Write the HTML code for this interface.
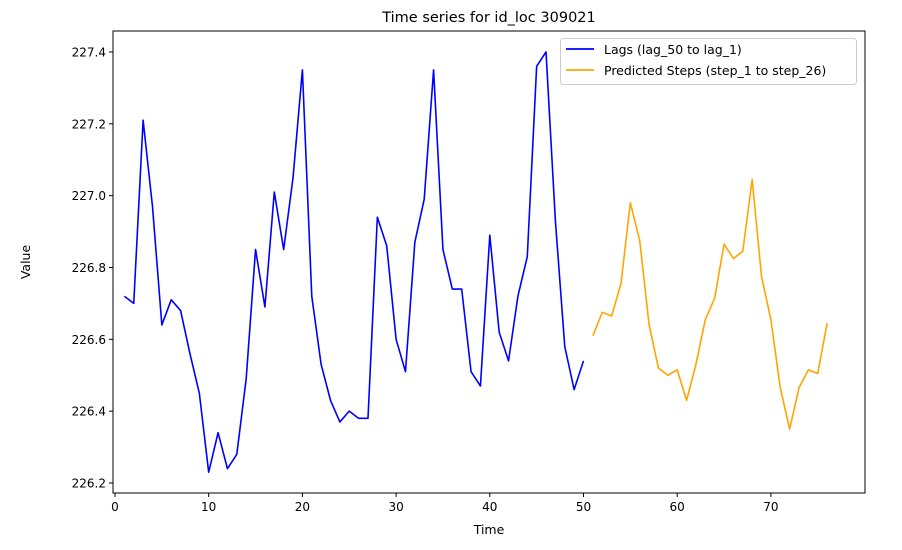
<!DOCTYPE html>
<html><head><meta charset="utf-8"><style>
body{margin:0;background:#fff;}
svg{display:block;font-family:"DejaVu Sans","Liberation Sans",sans-serif;}
</style></head><body>
<svg id="chart" width="902" height="550">
<rect width="902" height="550" fill="#fff"/>
<text x="489" y="22" font-size="14.5" text-anchor="middle">Time series for id_loc 309021</text>
<g id="axes"></g>
<g id="series"></g>
<rect x="113" y="31" width="752" height="462" fill="none" stroke="#000" stroke-width="1"/>
<text x="489" y="534" font-size="12.5" text-anchor="middle">Time</text>
<text x="30" y="262" font-size="12.5" text-anchor="middle" transform="rotate(-90 30 262)">Value</text>
<g>
<rect x="560.5" y="38.5" width="296" height="46" rx="3" fill="#fff" fill-opacity="0.8" stroke="#ccc"/>
<g>
<line x1="566" y1="49" x2="594" y2="49" stroke="blue" stroke-width="1.7"/>
<text x="604" y="54" font-size="12.5">Lags (lag_50 to lag_1)</text>
</g>
<g>
<line x1="566" y1="70" x2="594" y2="70" stroke="orange" stroke-width="1.7"/>
<text x="604" y="75" font-size="12.5">Predicted Steps (step_1 to step_26)</text>
</g>
</g>
</svg>
<script>
const lagValues=[226.72,226.70,227.21,226.97,226.64,226.71,226.68,226.56,226.45,226.23,226.34,226.24,226.28,226.49,226.85,226.69,227.01,226.85,227.05,227.35,226.72,226.53,226.43,226.37,226.40,226.38,226.38,226.94,226.86,226.60,226.51,226.87,226.99,227.35,226.85,226.74,226.74,226.51,226.47,226.89,226.62,226.54,226.72,226.83,227.36,227.40,226.93,226.58,226.46,226.54];
const predValues=[226.61,226.675,226.665,226.755,226.98,226.875,226.64,226.52,226.50,226.515,226.43,226.53,226.655,226.715,226.865,226.825,226.845,227.045,226.775,226.655,226.465,226.35,226.465,226.515,226.505,226.645];
const xTicks=[0,10,20,30,40,50,60,70];
const yTicks=[226.2,226.4,226.6,226.8,227.0,227.2,227.4];
const sx=v=>115+(v)*9.37;
const sy=v=>483-(v-226.2)*359.2;
const NS="http://www.w3.org/2000/svg";
const axes=document.getElementById('axes');
const series=document.getElementById('series');
function mk(tag,attrs,parent){const e=document.createElementNS(NS,tag);for(const k in attrs)e.setAttribute(k,attrs[k]);parent.appendChild(e);return e;}
xTicks.forEach(t=>{
  const g=mk('g',{},axes);
  
  
  mk('line',{x1:sx(t),x2:sx(t),y1:493,y2:497,stroke:'#000'},g);
  const tx=mk('text',{x:sx(t),y:511,'font-size':12,'text-anchor':'middle'},g);tx.textContent=t;
});
yTicks.forEach(t=>{
  const g=mk('g',{},axes);
  
  
  mk('line',{x1:109,x2:113,y1:sy(t),y2:sy(t),stroke:'#000'},g);
  const tx=mk('text',{x:106,y:sy(t)+4.5,'font-size':12,'text-anchor':'end'},g);tx.textContent=t.toFixed(1);
});
const lp=lagValues.map((v,i)=>sx(i+1)+','+sy(v)).join(' ');
const l1=mk('polyline',{points:lp,fill:'none',stroke:'blue','stroke-width':1.6,'stroke-linejoin':'round'},series);


const pp=predValues.map((v,i)=>sx(i+51)+','+sy(v)).join(' ');
const l2=mk('polyline',{points:pp,fill:'none',stroke:'orange','stroke-width':1.6,'stroke-linejoin':'round'},series);


</script>
</body></html>
